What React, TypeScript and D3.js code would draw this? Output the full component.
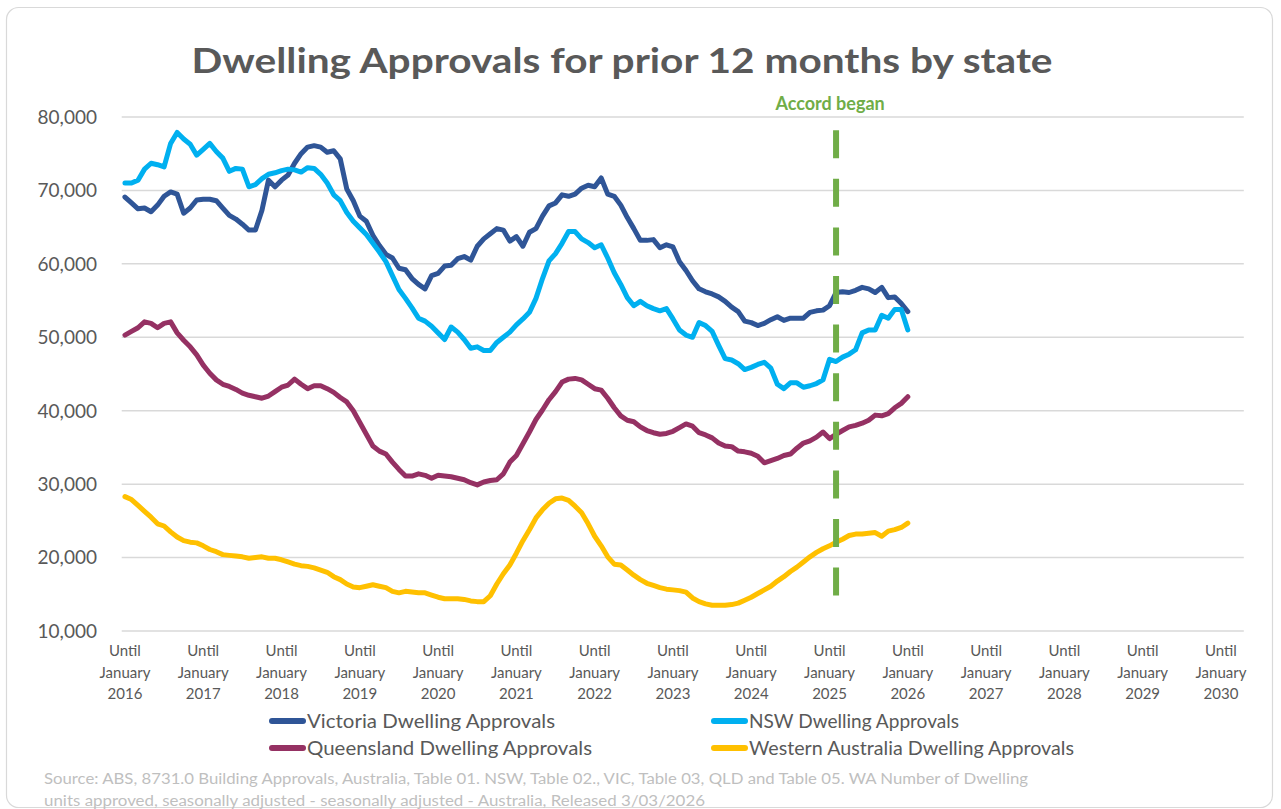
import React from 'react';
import * as d3 from 'd3';

// Prior-12-month dwelling approvals, thousands, monthly from Jan 2016 to Jan 2026
const victoria = [
  69.1, 68.3, 67.5, 67.6, 67.1, 68.0, 69.2, 69.8, 69.5, 66.9,
  67.6, 68.7, 68.8, 68.8, 68.6, 67.6, 66.6, 66.1, 65.4, 64.6,
  64.6, 67.3, 71.4, 70.5, 71.4, 72.1, 73.7, 75.0, 75.9, 76.1,
  75.9, 75.2, 75.4, 74.3, 70.2, 68.6, 66.5, 65.8, 63.9, 62.5,
  61.3, 60.8, 59.4, 59.2, 58.0, 57.2, 56.6, 58.4, 58.7, 59.7,
  59.8, 60.7, 61.0, 60.5, 62.4, 63.4, 64.1, 64.8, 64.6, 63.1,
  63.7, 62.4, 64.3, 64.8, 66.5, 67.9, 68.3, 69.4, 69.2, 69.5,
  70.3, 70.7, 70.5, 71.7, 69.5, 69.2, 68.0, 66.3, 64.8, 63.2,
  63.2, 63.3, 62.2, 62.6, 62.3, 60.3, 59.1, 57.7, 56.6, 56.2,
  55.9, 55.5, 54.9, 54.1, 53.5, 52.2, 52.0, 51.6, 51.9, 52.4,
  52.8, 52.3, 52.6, 52.6, 52.6, 53.4, 53.6, 53.7, 54.3, 56.1,
  56.2, 56.1, 56.4, 56.8, 56.6, 56.1, 56.8, 55.4, 55.5, 54.6, 53.5,
];

const nsw = [
  71.0, 71.0, 71.4, 72.9, 73.7, 73.5, 73.2, 76.4, 77.9, 77.0,
  76.3, 74.8, 75.6, 76.4, 75.3, 74.4, 72.6, 73.0, 72.9, 70.5,
  70.8, 71.6, 72.2, 72.4, 72.7, 72.9, 72.8, 72.5, 73.1, 73.0,
  72.2, 71.0, 69.4, 68.6, 67.0, 65.8, 64.9, 64.0, 62.8, 61.6,
  60.3, 58.4, 56.5, 55.3, 54.0, 52.6, 52.2, 51.5, 50.6, 49.7,
  51.4, 50.7, 49.7, 48.5, 48.7, 48.2, 48.2, 49.3, 50.0, 50.7,
  51.7, 52.5, 53.4, 55.3, 58.0, 60.4, 61.4, 62.8, 64.4, 64.4,
  63.4, 62.9, 62.2, 62.6, 60.8, 58.8, 57.2, 55.4, 54.3, 54.9,
  54.3, 53.9, 53.6, 53.9, 52.5, 51.0, 50.3, 50.0, 52.0, 51.6,
  50.8, 48.9, 47.1, 46.9, 46.4, 45.6, 45.9, 46.3, 46.6, 45.8,
  43.6, 43.0, 43.8, 43.8, 43.2, 43.4, 43.7, 44.2, 47.0, 46.7,
  47.3, 47.7, 48.3, 50.6, 51.0, 51.0, 53.0, 52.6, 53.8, 53.8, 51.0,
];

const queensland = [
  50.3, 50.8, 51.3, 52.1, 51.9, 51.3, 51.9, 52.1, 50.6, 49.6,
  48.7, 47.6, 46.2, 45.1, 44.2, 43.6, 43.3, 42.9, 42.4, 42.1,
  41.9, 41.7, 42.0, 42.6, 43.2, 43.5, 44.3, 43.6, 43.0, 43.4,
  43.4, 43.0, 42.5, 41.8, 41.2, 40.0, 38.4, 36.8, 35.2, 34.5,
  34.1, 33.0, 32.0, 31.1, 31.1, 31.4, 31.2, 30.8, 31.2, 31.1,
  31.0, 30.8, 30.6, 30.2, 29.9, 30.3, 30.5, 30.6, 31.4, 33.0,
  33.9, 35.5, 37.1, 38.8, 40.1, 41.5, 42.6, 43.9, 44.3, 44.4,
  44.2, 43.6, 43.0, 42.8, 41.7, 40.4, 39.3, 38.7, 38.5, 37.8,
  37.3, 37.0, 36.8, 36.9, 37.2, 37.7, 38.2, 37.9, 37.0, 36.7,
  36.3, 35.6, 35.2, 35.1, 34.5, 34.4, 34.2, 33.8, 32.9, 33.2,
  33.5, 33.9, 34.1, 34.9, 35.6, 35.9, 36.4, 37.1, 36.2, 36.8,
  37.3, 37.8, 38.0, 38.3, 38.7, 39.4, 39.3, 39.6, 40.4, 41.0, 41.9,
];

const westernAustralia = [
  28.3, 27.9, 27.1, 26.3, 25.5, 24.6, 24.3, 23.5, 22.8, 22.3,
  22.1, 22.0, 21.6, 21.1, 20.8, 20.4, 20.3, 20.2, 20.1, 19.9,
  20.0, 20.1, 19.9, 19.9, 19.7, 19.4, 19.1, 18.9, 18.8, 18.6,
  18.3, 18.0, 17.4, 17.0, 16.4, 16.0, 15.9, 16.1, 16.3, 16.1,
  15.9, 15.4, 15.2, 15.4, 15.3, 15.2, 15.2, 14.9, 14.6, 14.4,
  14.4, 14.4, 14.3, 14.1, 14.0, 14.0, 14.8, 16.4, 17.8, 19.0,
  20.6, 22.3, 23.8, 25.4, 26.5, 27.4, 28.0, 28.1, 27.8, 27.0,
  26.1, 24.6, 22.9, 21.6, 20.1, 19.1, 19.0, 18.3, 17.6, 17.0,
  16.5, 16.2, 15.9, 15.7, 15.6, 15.5, 15.3, 14.5, 14.0, 13.7,
  13.5, 13.5, 13.5, 13.6, 13.8, 14.2, 14.6, 15.1, 15.6, 16.1,
  16.8, 17.4, 18.1, 18.7, 19.4, 20.1, 20.7, 21.2, 21.6, 22.1,
  22.5, 23.0, 23.2, 23.2, 23.3, 23.4, 22.9, 23.6, 23.8, 24.1, 24.7,
];

const tickYears = [2016, 2017, 2018, 2019, 2020, 2021, 2022, 2023, 2024, 2025, 2026, 2027, 2028, 2029, 2030];
const yTicks = [10, 20, 30, 40, 50, 60, 70, 80];

// Accord marker: Feb 2025 (month index from Jan 2016), spans 78.2k down to 14.6k
const accordIndex = 109;
const accordRange = [78.2, 14.6];

const seriesNames = [
  'Victoria Dwelling Approvals',
  'NSW Dwelling Approvals',
  'Queensland Dwelling Approvals',
  'Western Australia Dwelling Approvals',
];

const colors = ['#2F5597', '#00B0F0', '#953163', '#FFC000'];
const legendTextWidths = [248, 210, 285, 325];
const font = 'Lato, "Open Sans", sans-serif';
const textGrey = '#595959';

export default function App() {
  const width = 1281;
  const height = 809;
  const totalCategories = 172; // Jan 2016 .. Apr 2030

  const x = d3.scaleLinear().domain([-0.5, totalCategories - 0.5]).range([121.7, 1243.8]);
  const y = d3.scaleLinear().domain([10, 80]).range([631, 117]);

  const line = d3
    .line<number>()
    .x((_, i) => x(i))
    .y(d => y(d));

  const series = [victoria, nsw, queensland, westernAustralia];
  const fmt = d3.format(',');

  // legend layout: two columns, two rows
  const legendCols = [272, 714];
  const legendRows = [721, 748];

  return (
    <div style={{ position: 'absolute', left: 0, top: 0 }}>
      <svg width={width} height={height} style={{ display: 'block', background: '#fff' }}>
        <rect x={6.5} y={7.5} width={1266} height={800} rx={12} fill="#fff" stroke="#d9d9d9" strokeWidth={1.2} />

        <text
          x={622}
          y={73}
          textAnchor="middle"
          fontFamily={font}
          fontWeight={700}
          fontSize={35}
          fill={textGrey}
          textLength={861}
          lengthAdjust="spacingAndGlyphs"
        >
          Dwelling Approvals for prior 12 months by state
        </text>

        {/* grid */}
        {yTicks.map(t => (
          <g key={t}>
            <line x1={x.range()[0]} x2={x.range()[1]} y1={y(t)} y2={y(t)} stroke="#d9d9d9" strokeWidth={1.5} />
            <text
              x={97}
              y={y(t)}
              dy="0.36em"
              textAnchor="end"
              fontFamily={font}
              fontSize={19}
              fill={textGrey}
            >
              {fmt(t * 1000)}
            </text>
          </g>
        ))}

        {/* x labels */}
        {tickYears.map(yr => {
          const cx = x((yr - 2016) * 12);
          return (
            <text key={yr} x={cx} textAnchor="middle" fontFamily={font} fontSize={15} fill={textGrey}>
              <tspan x={cx} y={656}>Until</tspan>
              <tspan x={cx} y={678}>January</tspan>
              <tspan x={cx} y={699}>{yr}</tspan>
            </text>
          );
        })}

        {/* series */}
        {series.map((s, k) => (
          <path
            key={k}
            d={line(s) ?? ''}
            fill="none"
            stroke={colors[k]}
            strokeWidth={5}
            strokeLinejoin="round"
            strokeLinecap="round"
          />
        ))}

        {/* Accord marker */}
        <line
          x1={x(accordIndex)}
          x2={x(accordIndex)}
          y1={y(accordRange[0])}
          y2={y(accordRange[1])}
          stroke="#70AD47"
          strokeWidth={6}
          strokeDasharray="28,20.6"
        />
        <text
          x={x(accordIndex) - 6}
          y={110}
          textAnchor="middle"
          fontFamily={font}
          fontWeight={700}
          fontSize={18}
          fill="#70AD47"
        >
          Accord began
        </text>

        {/* legend */}
        {seriesNames.map((name, k) => {
          const lx = legendCols[k % 2];
          const ly = legendRows[Math.floor(k / 2)];
          return (
            <g key={name}>
              <line x1={lx} x2={lx + 31} y1={ly} y2={ly} stroke={colors[k]} strokeWidth={6} strokeLinecap="round" />
              <text
                x={lx + 35}
                y={ly}
                dy="0.35em"
                fontFamily={font}
                fontSize={19}
                fill={textGrey}
                textLength={legendTextWidths[k]}
                lengthAdjust="spacingAndGlyphs"
              >
                {name}
              </text>
            </g>
          );
        })}

        {/* source */}
        <text
          x={44}
          y={784}
          fontFamily={font}
          fontSize={15.5}
          fill="#bfbfbf"
          textLength={984}
          lengthAdjust="spacingAndGlyphs"
        >
          Source: ABS, 8731.0 Building Approvals, Australia, Table 01. NSW, Table 02., VIC, Table 03, QLD and Table 05. WA Number of Dwelling
        </text>
        <text
          x={44}
          y={806}
          fontFamily={font}
          fontSize={15.5}
          fill="#bfbfbf"
          textLength={661}
          lengthAdjust="spacingAndGlyphs"
        >
          units approved, seasonally adjusted - seasonally adjusted - Australia, Released 3/03/2026
        </text>
      </svg>
    </div>
  );
}
